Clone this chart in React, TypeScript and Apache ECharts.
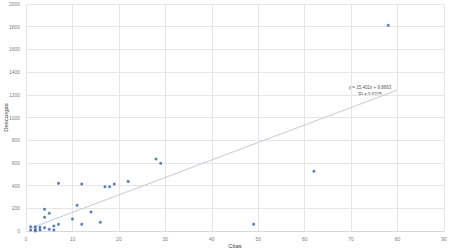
import React, { useEffect, useRef } from "react";
import * as echarts from "echarts";

const citas = [1, 1, 2, 2, 2, 3, 3, 4, 4, 4, 5, 5, 6, 6, 7, 7, 10, 11, 12, 12, 14, 16, 17, 18, 19, 22, 28, 29, 49, 62, 78];
const descargas = [38, 9, 38, 15, 0, 32, 9, 29, 191, 121, 15, 156, 44, 9, 59, 420, 106, 226, 414, 59, 167, 77, 390, 390, 414, 437, 634, 596, 59, 526, 1812];
const trendX = [1, 80];
const trendY = [25.3, 1242.0];
const eqLine1 = "y = 15,402x + 9,8663";
const eqLine2 = "R² = 0,6325";

export default function App() {
  const ref = useRef<HTMLDivElement>(null);
  useEffect(() => {
    const chart = echarts.init(ref.current!, undefined, { renderer: "svg" });
    const font = "'Liberation Sans', Arial, sans-serif";
    chart.setOption({
      animation: false,
      grid: { left: 26, right: 6, top: 4, bottom: 20, containLabel: false, outerBoundsMode: "none" },
      xAxis: {
        type: "value",
        min: 0,
        max: 90,
        interval: 10,
        name: "Citas",
        nameLocation: "middle",
        nameGap: 12,
        nameMoveOverlap: false,
        nameTextStyle: { fontSize: 6, color: "#404040", fontFamily: font },
        axisLine: { show: true, lineStyle: { color: "#d9d9d9" } },
        axisTick: { show: false },
        axisLabel: { fontSize: 5, color: "#808080", fontFamily: font, margin: 5, formatter: (v: number) => String(v) },
        splitLine: { show: true, lineStyle: { color: "#e6e6e6", width: 1 } },
      },
      yAxis: {
        type: "value",
        min: 0,
        max: 2000,
        interval: 200,
        name: "Descargas",
        nameLocation: "middle",
        nameGap: 17,
        nameMoveOverlap: false,
        nameTextStyle: { fontSize: 6, color: "#404040", fontFamily: font },
        axisLine: { show: false },
        axisTick: { show: false },
        axisLabel: { fontSize: 5, color: "#808080", fontFamily: font, margin: 6, formatter: (v: number) => String(v) },
        splitLine: { show: true, lineStyle: { color: "#e6e6e6", width: 1 } },
      },
      series: [
        {
          type: "line",
          data: trendX.map((x, i) => [x, trendY[i]]),
          showSymbol: false,
          symbol: "none",
          lineStyle: { color: "#c3cbd6", width: 1 },
          silent: true,
          z: 1,
        },
        {
          type: "scatter",
          data: citas.map((x, i) => [x, descargas[i]]),
          symbolSize: 3,
          itemStyle: { color: "#2f5fb7" },
          z: 3,
        },
      ],
      graphic: [
        {
          type: "text",
          x: 370,
          y: 87.5,
          style: { text: eqLine1, fontSize: 4.5, fill: "#595959", align: "center", verticalAlign: "middle", fontFamily: font },
        },
        {
          type: "text",
          x: 370,
          y: 94.5,
          style: { text: eqLine2, fontSize: 4.5, fill: "#595959", align: "center", verticalAlign: "middle", fontFamily: font },
        },
      ],
    });
    return () => chart.dispose();
  }, []);
  return (
    <div
      ref={ref}
      style={{ position: "absolute", left: 0, top: 0, width: 450, height: 251, background: "#fff" }}
    />
  );
}
